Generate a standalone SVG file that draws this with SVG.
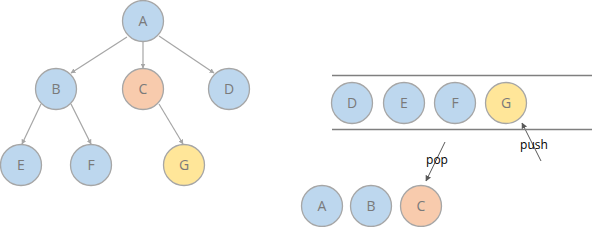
<svg xmlns="http://www.w3.org/2000/svg" width="592" height="227" viewBox="0 0 592 227">
<defs>
<marker id="ah" viewBox="0 0 10 10" refX="9" refY="5" markerWidth="5" markerHeight="5" orient="auto" markerUnits="userSpaceOnUse"><path d="M0,0 L10,5 L0,10 Z" fill="#A6A6A6"/></marker>
<marker id="ahd" viewBox="0 0 10 10" refX="9" refY="5" markerWidth="6" markerHeight="6" orient="auto" markerUnits="userSpaceOnUse"><path d="M0,0 L10,5 L0,10 Z" fill="#595959"/></marker>
</defs>
<style>
circle{stroke:#A6A6A6;stroke-width:1.3}
.b{fill:#BDD7EE}.o{fill:#F8CBAD}.y{fill:#FFE699}
.t{font-family:"Open Sans","DejaVu Sans",sans-serif;font-size:14px;fill:#7A7A7A;text-anchor:middle}
.e{stroke:#A6A6A6;stroke-width:1.2;fill:none;marker-end:url(#ah)}
.s{stroke:#595959;stroke-width:1;fill:none;marker-end:url(#ahd)}
.w{stroke:#7F7F7F;stroke-width:1.5}
.l{font-family:"Open Sans","DejaVu Sans",sans-serif;font-size:12px;fill:#000;text-anchor:middle}
</style>
<g id="connectors">
<line class="e" x1="127" y1="37" x2="71" y2="73"/>
<line class="e" x1="143" y1="41.5" x2="143" y2="68"/>
<line class="e" x1="159" y1="36" x2="214" y2="73"/>
<line class="e" x1="41" y1="104" x2="22" y2="144"/>
<line class="e" x1="71" y1="104" x2="91" y2="144"/>
<line class="e" x1="159" y1="104" x2="183" y2="144"/>
<line class="s" x1="445" y1="142" x2="426" y2="181"/>
<line class="s" x1="541" y1="161" x2="522" y2="123"/>
</g>
<g id="stack">
<line class="w" x1="332" y1="75.5" x2="592" y2="75.5"/>
<line class="w" x1="332" y1="129.5" x2="592" y2="129.5"/>
</g>
<g id="A"><circle class="b" cx="143" cy="21" r="20.5"/><text class="t" x="143" y="26">A</text></g>
<g id="B"><circle class="b" cx="56" cy="89" r="20.5"/><text class="t" x="56" y="94">B</text></g>
<g id="C"><circle class="o" cx="143" cy="89" r="20.5"/><text class="t" x="143" y="94">C</text></g>
<g id="D"><circle class="b" cx="229" cy="89" r="20.5"/><text class="t" x="229" y="94">D</text></g>
<g id="E"><circle class="b" cx="21" cy="165" r="20.5"/><text class="t" x="21" y="170">E</text></g>
<g id="F"><circle class="b" cx="91" cy="165" r="20.5"/><text class="t" x="91" y="170">F</text></g>
<g id="G"><circle class="y" cx="184" cy="165" r="20.5"/><text class="t" x="184" y="170">G</text></g>
<g id="qD"><circle class="b" cx="352" cy="103" r="20.5"/><text class="t" x="352" y="108">D</text></g>
<g id="qE"><circle class="b" cx="404" cy="103" r="20.5"/><text class="t" x="404" y="108">E</text></g>
<g id="qF"><circle class="b" cx="455" cy="103" r="20.5"/><text class="t" x="455" y="108">F</text></g>
<g id="qG"><circle class="y" cx="506" cy="103" r="20.5"/><text class="t" x="506" y="108">G</text></g>
<g id="oA"><circle class="b" cx="322" cy="206" r="20.5"/><text class="t" x="322" y="211">A</text></g>
<g id="oB"><circle class="b" cx="371" cy="206" r="20.5"/><text class="t" x="371" y="211">B</text></g>
<g id="oC"><circle class="o" cx="421" cy="206" r="20.5"/><text class="t" x="421" y="211">C</text></g>
<text class="l" x="437" y="164">pop</text>
<text class="l" x="534" y="149">push</text>
</svg>
